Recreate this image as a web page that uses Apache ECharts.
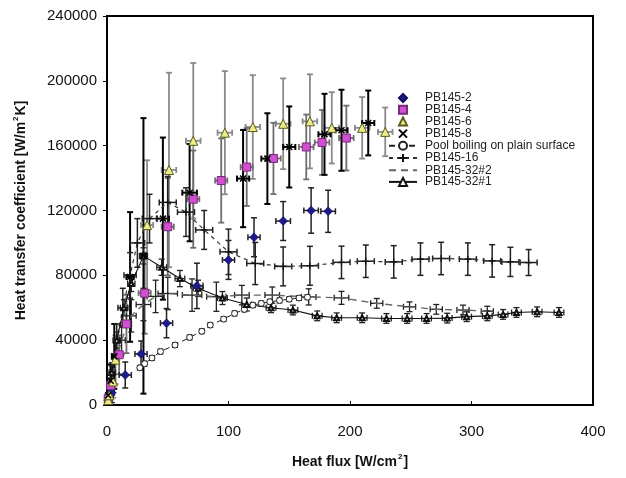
<!DOCTYPE html>
<html><head><meta charset="utf-8">
<script src="https://cdn.jsdelivr.net/npm/echarts@6/dist/echarts.min.js"></script>
<style>html,body{margin:0;padding:0;background:#fff}#c{width:626px;height:478px}</style>
</head><body><div id="c"></div>
<script>
// ---- data ----
const xTickLabels = ['0','100','200','300','400'];
const yTickLabels = ['0','40000','80000','120000','160000','200000','240000'];

const pb2X  = [1, 2, 4, 15, 28, 49, 74, 100, 121, 145, 168, 182];
const pb2Y  = [3000, 7000, 7500, 18500, 31500, 50500, 73500, 89500, 103500, 113500, 120000, 119500];
const pb2EX = [1, 1, 2, 5, 5, 5, 5, 5, 5, 6, 6, 6];
const pb2EY = [3000, 5000, 6000, 8000, 8000, 9000, 14000, 12000, 12000, 12000, 14000, 13000];

const pb4X  = [1, 3, 10, 16, 31, 50, 71, 94, 115, 137, 164, 177, 197];
const pb4Y  = [4000, 12000, 31000, 50000, 69000, 110000, 127000, 138500, 146800, 152100, 159200, 162000, 164700];
const pb4EX = [1, 1, 3, 4, 5, 5, 5, 5, 5, 6, 6, 6, 6];
const pb4EY = [4000, 8000, 12000, 18000, 25000, 30000, 30000, 26000, 24000, 22000, 20000, 20000, 20000];

const pb6X  = [1, 2, 5, 7, 33, 51, 71, 97, 120, 145, 167, 185, 210, 229];
const pb6Y  = [3000, 6000, 14500, 28000, 111000, 145000, 163000, 168000, 171500, 173500, 175000, 171000, 171000, 168500];
const pb6EX = [1, 1, 2, 2, 5, 6, 6, 6, 6, 6, 6, 6, 6, 6];
const pb6EY = [3000, 5000, 10000, 15000, 40000, 60000, 48000, 38000, 32000, 28000, 29000, 22000, 19000, 15000];

const pb8X  = [1, 3, 6, 19, 30, 46, 68, 112, 132, 150, 179, 193, 215];
const pb8Y  = [6000, 15000, 30000, 79000, 92000, 115000, 131000, 139700, 152000, 159200, 167000, 169500, 174000];
const pb8EX = [1, 1, 2, 3, 3, 5, 6, 5, 5, 5, 5, 5, 5];
const pb8EY = [6000, 10000, 20000, 40000, 85000, 50000, 30000, 30000, 28000, 25000, 25000, 25000, 20000];

const poolX  = [27, 31, 37, 44, 56, 68, 78, 85, 96, 105, 113, 120, 127, 134, 142, 150, 158, 165];
const poolY  = [23000, 25500, 29000, 33000, 37000, 41700, 45500, 49300, 53000, 56500, 59000, 61600, 62700, 63700, 64500, 65300, 66000, 66500];
const poolEX = [1, 1, 1, 1, 1, 1, 1, 1, 1, 1, 1, 1, 1, 1, 1, 1, 1, 1];
const poolEY = [1500, 1500, 1500, 1500, 1500, 1500, 1500, 1500, 1500, 1500, 1500, 1500, 1500, 1500, 1500, 1500, 1500, 1500];

const pb16X  = [1, 4, 8, 13, 19, 25, 35, 50, 65, 80, 100, 122, 145, 167, 193, 213, 236, 258, 275, 297, 317, 332, 347];
const pb16Y  = [5000, 20000, 40000, 60000, 80000, 100000, 115000, 125000, 119000, 108000, 94500, 87300, 85500, 85900, 88000, 88700, 88300, 90000, 90400, 90000, 88900, 88300, 87900];
const pb16EX = [1, 2, 3, 4, 5, 6, 6, 7, 7, 7, 7, 7, 7, 7, 7, 7, 7, 7, 7, 7, 7, 7, 7];
const pb16EY = [3000, 6000, 10000, 12000, 14000, 15000, 15000, 16000, 15000, 12000, 14000, 13000, 12000, 12000, 10000, 10000, 10000, 10000, 10000, 10000, 10000, 9000, 8000];

const pb32bX  = [1, 5, 12, 20, 30, 40, 50, 70, 90, 111, 136, 166, 193, 222, 249, 271, 293, 313];
const pb32bY  = [4000, 20000, 40000, 55000, 62000, 67000, 68800, 67800, 66800, 67800, 67800, 66700, 66100, 62700, 60600, 59000, 58600, 57900];
const pb32bEX = [1, 2, 3, 4, 6, 7, 8, 8, 8, 6, 6, 6, 6, 5, 5, 5, 5, 5];
const pb32bEY = [3000, 6000, 9000, 10000, 10000, 10000, 10000, 10000, 9000, 6000, 5000, 5000, 4000, 3000, 3000, 3000, 3000, 3000];

const pb32aX  = [1, 4, 8, 14, 20, 30, 45, 60, 75, 95, 115, 135, 153, 173, 189, 210, 230, 247, 263, 280, 296, 313, 326, 337, 354, 372];
const pb32aY  = [4000, 20000, 40000, 60000, 75000, 92000, 85000, 78000, 72000, 66000, 62000, 60000, 58600, 55000, 53800, 53800, 53400, 53400, 53400, 53600, 54500, 55000, 55900, 57100, 57500, 57100];
const pb32aEX = [1, 2, 2, 3, 3, 3, 4, 4, 4, 4, 4, 4, 4, 4, 4, 4, 4, 4, 4, 4, 4, 4, 4, 4, 4, 4];
const pb32aEY = [3000, 4000, 5000, 5000, 5000, 5000, 5000, 5000, 5000, 4000, 4000, 3000, 3000, 3000, 3000, 3000, 3000, 3000, 3000, 3000, 3000, 3000, 3000, 3000, 3000, 3000];

// ---- helpers ----
const zip = (xs, ys) => xs.map((x, i) => [x, ys[i]]);
const zip4 = (xs, ys, ex, ey) => xs.map((x, i) => [x, ys[i], ex[i], ey[i]]);

function errSeries(id, xs, ys, ex, ey, color, width) {
  return {
    type: 'custom', name: id, z: 1, clip: true, silent: true,
    data: zip4(xs, ys, ex, ey),
    encode: { x: 0, y: 1 },
    renderItem: function (params, api) {
      const x = api.value(0), y = api.value(1), dx = api.value(2), dy = api.value(3);
      const top = api.coord([x, y + dy]);
      const bot = api.coord([x, Math.max(0, y - dy)]);
      const lft = api.coord([Math.max(0, x - dx), y]);
      const rgt = api.coord([x + dx, y]);
      const st = { stroke: color, lineWidth: width };
      const c = 3;
      return { type: 'group', children: [
        { type: 'line', shape: { x1: top[0], y1: top[1], x2: bot[0], y2: bot[1] }, style: st },
        { type: 'line', shape: { x1: top[0] - c, y1: top[1], x2: top[0] + c, y2: top[1] }, style: st },
        { type: 'line', shape: { x1: bot[0] - c, y1: bot[1], x2: bot[0] + c, y2: bot[1] }, style: st },
        { type: 'line', shape: { x1: lft[0], y1: lft[1], x2: rgt[0], y2: rgt[1] }, style: st },
        { type: 'line', shape: { x1: lft[0], y1: lft[1] - c, x2: lft[0], y2: lft[1] + c }, style: st },
        { type: 'line', shape: { x1: rgt[0], y1: rgt[1] - c, x2: rgt[0], y2: rgt[1] + c }, style: st }
      ]};
    }
  };
}

// marker-only series drawn as line series with an invisible line (so legend icons keep their shape)
function markSeries(name, xs, ys, symbol, size, itemStyle) {
  return { name: name, type: 'line', z: 5, data: zip(xs, ys), symbol: symbol, symbolSize: size,
    showAllSymbol: true, itemStyle: itemStyle, lineStyle: { width: 0, opacity: 0 } };
}

const crossPath = 'path://M0,0L10,10M10,0L0,10';
const plusPath = 'path://M5,0L5,10M0,5L10,5';
const font = 'Liberation Sans, Arial, sans-serif';

const chart = echarts.init(document.getElementById('c'), null, { renderer: 'canvas' });
chart.setOption({
  backgroundColor: '#fff',
  animation: false,
  grid: { left: 107, right: 33, top: 16, bottom: 73, show: true, borderColor: '#000', borderWidth: 2, backgroundColor: 'transparent' },
  legend: {
    orient: 'vertical', left: 383, top: 87,
    itemWidth: 28, itemHeight: 10, itemGap: -0.3,
    textStyle: { fontFamily: font, fontSize: 12, color: '#222', padding: [0, 0, 0, 3] },
    data: ['PB145-2', 'PB145-4', 'PB145-6', 'PB145-8', 'Pool boiling on plain surface', 'PB145-16',
      { name: 'PB145-32#2', itemStyle: { opacity: 0 } }, 'PB145-32#1']
  },
  xAxis: {
    type: 'value', min: 0, max: 400, interval: 100,
    name: 'Heat flux [W/cm{sup|2}]', nameLocation: 'middle', nameGap: 48,
    nameTextStyle: { fontFamily: font, fontSize: 14, fontWeight: 'bold', color: '#111',
      rich: { sup: { fontFamily: font, fontSize: 8, fontWeight: 'bold', verticalAlign: 'top', padding: [0, 1, 10, 1] } } },
    axisLine: { lineStyle: { color: '#000', width: 2 } },
    axisTick: { inside: true, length: 4, lineStyle: { color: '#000' } },
    splitLine: { show: false },
    axisLabel: { fontFamily: font, fontSize: 15, color: '#111', margin: 19,
      formatter: (v) => xTickLabels[Math.round(v / 100)] }
  },
  yAxis: {
    type: 'value', min: 0, max: 240000, interval: 40000,
    name: 'Heat transfer coefficient [W/m{sup|2}K]', nameLocation: 'middle', nameGap: 77,
    nameTextStyle: { fontFamily: font, fontSize: 14, fontWeight: 'bold', color: '#111',
      rich: { sup: { fontFamily: font, fontSize: 8, fontWeight: 'bold', padding: [0, 1, 10, 1] } } },
    axisLine: { lineStyle: { color: '#000', width: 2 } },
    axisTick: { show: true, length: 4, lineStyle: { color: '#000' } },
    splitLine: { show: false },
    axisLabel: { fontFamily: font, fontSize: 15, color: '#111', margin: 10,
      formatter: (v) => yTickLabels[Math.round(v / 40000)] }
  },
  series: [
    errSeries('e6', pb6X, pb6Y, pb6EX, pb6EY, '#8a8a8a', 1.8),
    errSeries('e4', pb4X, pb4Y, pb4EX, pb4EY, '#6e6e6e', 1.8),
    errSeries('e8', pb8X, pb8Y, pb8EX, pb8EY, '#000', 2),
    errSeries('e2', pb2X, pb2Y, pb2EX, pb2EY, '#222', 1.5),
    errSeries('ep', poolX, poolY, poolEX, poolEY, '#222', 1),
    errSeries('e16', pb16X, pb16Y, pb16EX, pb16EY, '#222', 1.5),
    errSeries('e32b', pb32bX, pb32bY, pb32bEX, pb32bEY, '#222', 1.3),
    errSeries('e32a', pb32aX, pb32aY, pb32aEX, pb32aEY, '#222', 1.3),
    markSeries('PB145-2', pb2X, pb2Y, 'diamond', 9, { color: '#1c1c8a', borderColor: '#0e0e5a', borderWidth: 0.5 }),
    markSeries('PB145-4', pb4X, pb4Y, 'rect', 8, { color: '#d24fd2', borderColor: '#7a2a7a', borderWidth: 1 }),
    markSeries('PB145-6', pb6X, pb6Y, 'triangle', 9, { color: '#ecec8a', borderColor: '#5a5a1a', borderWidth: 1 }),
    markSeries('PB145-8', pb8X, pb8Y, crossPath, 6, { color: 'none', borderColor: '#000', borderWidth: 1.5 }),
    { name: 'Pool boiling on plain surface', type: 'line', z: 4, data: zip(poolX, poolY),
      symbol: 'circle', symbolSize: 6, showAllSymbol: true,
      itemStyle: { color: '#fff', borderColor: '#222', borderWidth: 1 },
      lineStyle: { color: '#222', width: 1, type: [6, 4] } },
    { name: 'PB145-16', type: 'line', z: 4, data: zip(pb16X, pb16Y),
      symbol: plusPath, symbolSize: 7, showAllSymbol: true,
      itemStyle: { color: 'none', borderColor: '#111', borderWidth: 1.2 },
      lineStyle: { color: '#333', width: 1.2, type: [4, 4] } },
    { name: 'PB145-32#2', type: 'line', z: 4, data: zip(pb32bX, pb32bY),
      symbol: 'none',
      itemStyle: { color: '#777' },
      lineStyle: { color: '#666', width: 1.4, type: [7, 5] } },
    { name: 'PB145-32#1', type: 'line', z: 4, data: zip(pb32aX, pb32aY),
      symbol: 'emptyTriangle', symbolSize: 5, showAllSymbol: true,
      itemStyle: { color: '#111', borderColor: '#111', borderWidth: 1 },
      lineStyle: { color: '#111', width: 1.1, type: 'solid' } }
  ]
});
</script>
</body></html>
